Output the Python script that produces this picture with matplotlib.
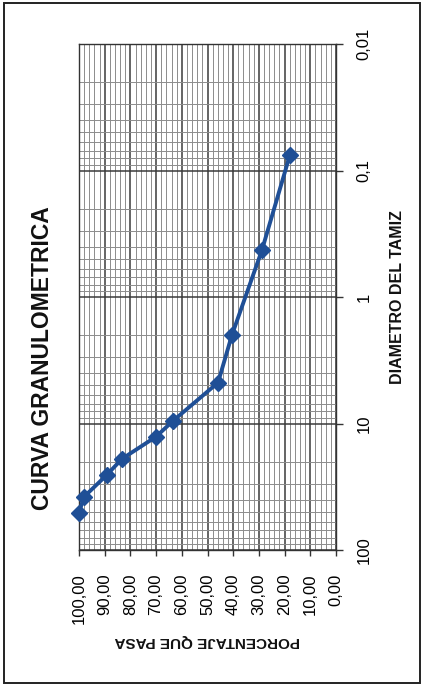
import matplotlib
matplotlib.use("Agg")
import matplotlib.pyplot as plt
from matplotlib.patches import Rectangle
from matplotlib.ticker import FixedLocator, MultipleLocator, LogLocator, NullFormatter

# sieve opening (mm) and percent passing
diametro = [50.8, 38.1, 25.4, 19.05, 12.7, 9.525, 4.75, 2.0, 0.425, 0.075]
pasa = [100.0, 98.1, 89.1, 83.3, 70.0, 63.4, 45.9, 40.5, 28.8, 17.9]

pct_ticks = [100, 90, 80, 70, 60, 50, 40, 30, 20, 10, 0]
pct_labels = ["100,00", "90,00", "80,00", "70,00", "60,00", "50,00",
              "40,00", "30,00", "20,00", "10,00", "0,00"]
diam_ticks = [100, 10, 1, 0.1, 0.01]
diam_labels = ["100", "10", "1", "0,1", "0,01"]

plt.rcParams['font.family'] = ['Liberation Sans', 'DejaVu Sans']

fig = plt.figure(figsize=(4.24, 6.86), dpi=100)
W, H = 424, 686

# page frame of the scanned sheet
fig.patches.append(Rectangle((4 / W, 3 / H), 416 / W, 680 / H, transform=fig.transFigure,
                             fill=False, edgecolor="#222222", linewidth=1.4))

# chart is drawn rotated: percent runs horizontally, diameter vertically
ax = fig.add_axes([79 / W, (H - 550) / H, 257 / W, 506 / H])
ax.set_xlim(100, 0)
ax.set_yscale("log")
ax.set_ylim(100, 0.01)

ax.xaxis.set_major_locator(FixedLocator(pct_ticks))
ax.xaxis.set_minor_locator(MultipleLocator(2))
ax.set_xticklabels(pct_labels, rotation=90, va="top", ha="center", fontsize=12)

ax.yaxis.set_major_locator(FixedLocator(diam_ticks))
ax.yaxis.set_minor_locator(LogLocator(base=10, subs=range(2, 10)))
ax.yaxis.set_minor_formatter(NullFormatter())
ax.set_yticklabels(diam_labels, rotation=90, va="center", ha="left", fontsize=12)
ax.yaxis.tick_right()

ax.tick_params(axis="x", which="major", length=4, width=1, color="#333333", pad=13, direction="out")
ax.tick_params(axis="y", which="major", length=5, width=1, color="#333333", pad=10, direction="out")
ax.tick_params(which="minor", length=0)

ax.grid(True, which="major", color="#3a3a3a", linewidth=1.1)
ax.grid(True, which="minor", color="#8c8c8c", linewidth=0.7)
ax.set_axisbelow(True)
for s in ax.spines.values():
    s.set_color("#333333")
    s.set_linewidth(1.0)

ax.plot(pasa, diametro, color="#1f4f96", linewidth=2.8, marker="D", markersize=8,
        markerfacecolor="#1f4f96", markeredgecolor="#1f4f96", zorder=5, clip_on=False)

fig.text(43 / W, 1 - 358 / H, "CURVA GRANULOMETRICA", rotation=90, ha="center", va="center",
         fontsize=16.5, fontweight="bold", color="#111111")
fig.text(397 / W, 1 - 297 / H, "DIAMETRO DEL TAMIZ", rotation=90, ha="center", va="center",
         fontsize=11.5, fontweight="bold", color="#111111")
fig.text(207 / W, 1 - 641 / H, "PORCENTAJE QUE PASA", rotation=180, ha="center", va="center",
         fontsize=11, fontweight="bold", color="#111111")

fig.savefig("out.png", dpi=100)
